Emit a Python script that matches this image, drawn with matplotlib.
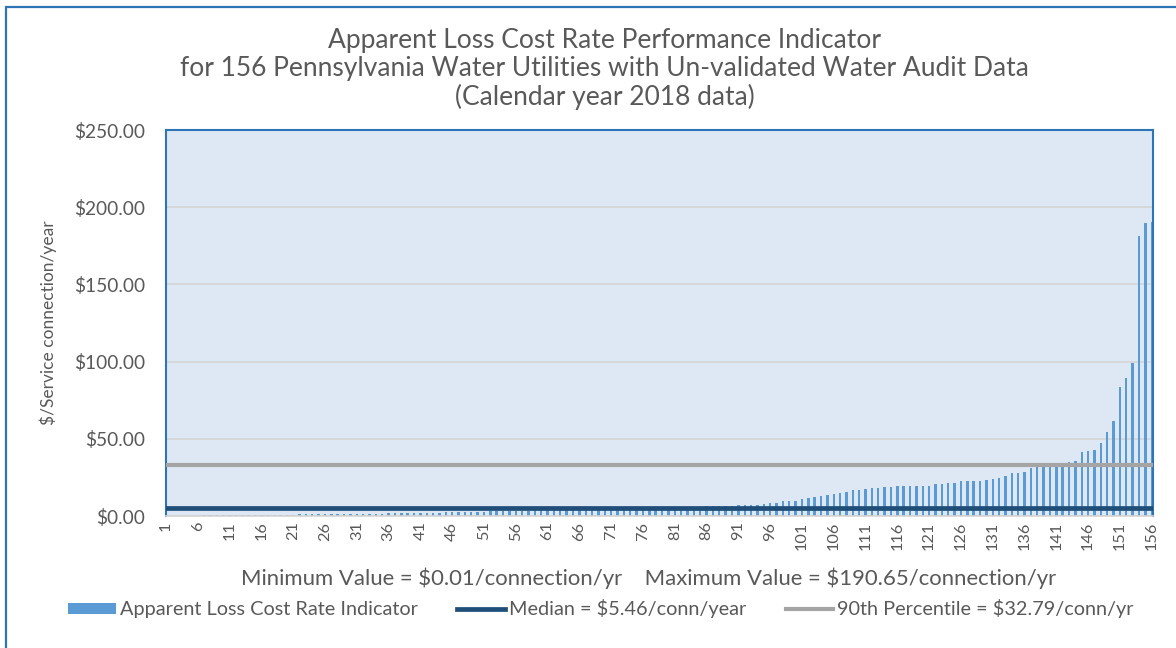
import numpy as np
import matplotlib
matplotlib.use('Agg')
import matplotlib.pyplot as plt
from matplotlib.patches import Patch, Rectangle
from matplotlib.lines import Line2D
from matplotlib.ticker import FuncFormatter

# utility index (sorted ascending) and cost rate in $/connection/yr
utility = list(range(1, 157))
cost_rate = [
    0.01, 0.05, 0.08, 0.12, 0.18, 0.25, 0.35, 0.40, 0.45, 0.50,
    0.52, 0.55, 0.58, 0.62, 0.65, 0.68, 0.72, 0.75, 0.80, 0.85,
    0.95, 1.02, 1.08, 1.12, 1.16, 1.20, 1.24, 1.28, 1.31, 1.35,
    1.40, 1.45, 1.50, 1.55, 1.60, 1.66, 1.72, 1.80, 1.86, 1.92,
    1.98, 2.05, 2.12, 2.20, 2.28, 2.35, 2.42, 2.50, 2.62, 2.75,
    2.85, 2.95, 3.05, 3.15, 3.25, 3.35, 3.45, 3.55, 3.66, 3.78,
    3.90, 4.00, 4.10, 4.20, 4.30, 4.40, 4.50, 4.58, 4.66, 4.74,
    4.82, 4.90, 4.98, 5.06, 5.14, 5.22, 5.30, 5.40, 5.52, 5.62,
    5.72, 5.82, 5.92, 6.02, 6.12, 6.22, 6.34, 6.46, 6.60, 6.78,
    6.95, 7.10, 7.10, 7.30, 8.00, 8.40, 8.40, 9.70, 9.70, 9.70,
    10.8, 11.4, 12.5, 13.2, 13.8, 14.5, 14.9, 15.5, 16.6, 16.6,
    17.3, 17.9, 17.9, 18.6, 19.0, 19.2, 19.2, 19.6, 19.6, 19.6,
    19.6, 20.7, 20.7, 21.4, 21.4, 22.7, 22.7, 22.7, 22.7, 23.1,
    23.7, 24.4, 26.1, 27.7, 28.1, 28.5, 31.3, 31.8, 32.2, 32.6,
    32.9, 33.3, 34.8, 35.6, 41.2, 42.1, 42.7, 47.5, 54.6, 61.5,
    83.8, 89.2, 98.9, 181.3, 189.6, 190.65]
median_val = 5.46
pct90_val = 32.79
xtick_labels = [str(i) for i in range(1, 157, 5)]

title = ("Apparent Loss Cost Rate Performance Indicator\n"
         "for 156 Pennsylvania Water Utilities with Un-validated Water Audit Data\n"
         "(Calendar year 2018 data)")
minmax_text = "Minimum Value = $0.01/connection/yr    Maximum Value = $190.65/connection/yr"

bar_color = '#5B9BD5'
median_color = '#1F4E79'
pct_color = '#A5A5A5'
text_color = '#595959'
frame_color = '#2E75B6'

plt.rcParams['font.family'] = ['Lato', 'DejaVu Sans']

fig = plt.figure(figsize=(11.76, 6.48), dpi=100)
ax = fig.add_axes([166/1176, 132/648, (1153-166)/1176, (516-130)/648])
ax.set_facecolor('#DDE8F4')

ax.bar(utility, cost_rate, width=0.38, color=bar_color, zorder=2)
ax.axhline(median_val, color=median_color, lw=3.4, zorder=3)
ax.axhline(pct90_val, color=pct_color, lw=3.0, zorder=3)

ax.set_xlim(1, 156.2)
ax.set_ylim(0, 250)
ax.set_yticks([0, 50, 100, 150, 200, 250])
ax.yaxis.set_major_formatter(FuncFormatter(lambda v, p: '$%.2f' % v))
ax.set_xticks(range(1, 157, 5))
ax.set_xticklabels(xtick_labels, rotation=90)
ax.tick_params(axis='both', length=0, colors=text_color)
ax.tick_params(axis='y', labelsize=13.8, pad=15)
ax.tick_params(axis='x', labelsize=11.8, pad=4)
ax.grid(axis='y', color='#D4D4D4', lw=1.2, zorder=1)
ax.set_axisbelow(True)
for side in ['left', 'top', 'right']:
    ax.spines[side].set_color(frame_color)
    ax.spines[side].set_linewidth(1.5)
ax.spines['bottom'].set_color('#D4D4D4')
ax.spines['bottom'].set_linewidth(1.2)

ax.set_ylabel('$/Service connection/year', fontsize=12.5, color=text_color, labelpad=12)

fig.text(0.514, 1 - 69/648, title, ha='center', va='center', fontsize=19,
         color=text_color, linespacing=1.13)
fig.text(0.5515, 1 - 578/648, minmax_text, ha='center', va='center',
         fontsize=15.9, color=text_color, parse_math=False)

handles = [Patch(facecolor=bar_color),
           Line2D([], [], color=median_color, lw=3.4),
           Line2D([], [], color=pct_color, lw=3.0)]
labels = ['Apparent Loss Cost Rate Indicator',
          'Median = $5.46/conn/year',
          '90th Percentile = $32.79/conn/yr']
leg = fig.legend(handles, labels, loc='center', bbox_to_anchor=(0.511, 1 - 609/648),
                 ncol=3, frameon=False, fontsize=14.3, handlelength=2.4,
                 handleheight=0.45, handletextpad=0.2, columnspacing=2.0)
for t in leg.get_texts():
    t.set_color(text_color)

# outer chart frame
fig.add_artist(Rectangle((6/1176, -0.1), 1.2, 1 - 7/648 + 0.1, transform=fig.transFigure,
                         fill=False, edgecolor=frame_color, lw=1.6))

fig.savefig('out.png', dpi=100)
